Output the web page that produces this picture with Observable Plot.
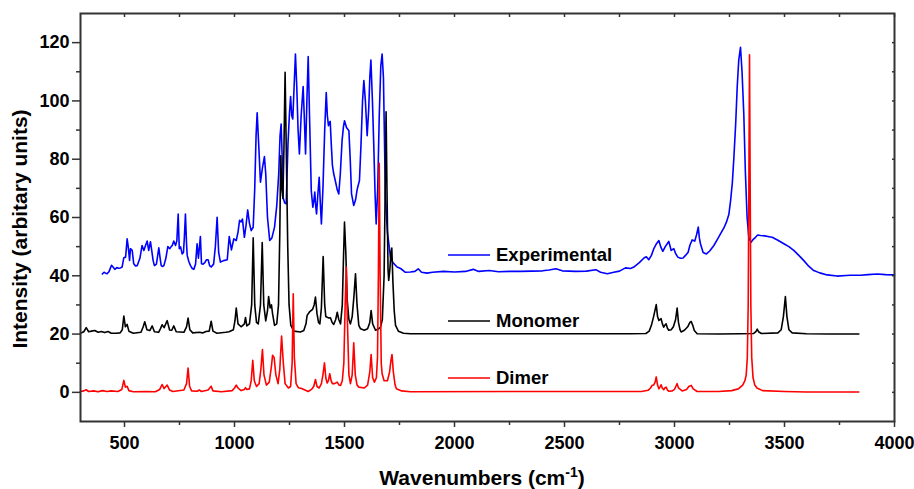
<!DOCTYPE html>
<html>
<head>
<meta charset="utf-8">
<script src="https://cdn.jsdelivr.net/npm/d3@7"></script>
<script src="https://cdn.jsdelivr.net/npm/@observablehq/plot@0.6"></script>
<style>
  html, body { margin: 0; padding: 0; background: #fff; }
  #chart svg { display: block; }
</style>
</head>
<body>
<div id="chart"></div>
<script>
// ---- Data (wavenumber cm^-1, intensity) ----
const seriesNames = ["Experimental", "Monomer", "Dimer"];
const seriesColors = ["#0000ff", "#000000", "#ff0000"];

const experimental = [[399,40.6],[407,41.2],[414,40.9],[421,40.7],[430,41.5],[441,43.6],[448,43],[456,42.2],[465,42.8],[474,42.6],[482,42.7],[489,43],[497,46.2],[505,46.4],[512,52.7],[517,49.9],[523,45.3],[527,49.3],[535,48.7],[542,44.1],[550,43.4],[558,43.5],[570,46],[580,50.4],[588,48.7],[596,50.5],[603,51.9],[610,48.7],[618,51.7],[625,48],[630,45.3],[636,43.5],[645,44],[656,49.6],[662,46],[667,43.5],[673,43.2],[679,43.5],[688,46],[697,50],[706,49.3],[712,50],[717,50.4],[724,51.9],[732,50.4],[738,52],[744,61.2],[749,49.3],[755,49.9],[762,47.5],[768,48],[772,53],[777,61.2],[782,51],[785,47],[792,45],[800,43.5],[808,42.5],[815,42.2],[823,44],[830,51],[836,46],[845,53.5],[850,44.1],[857,44],[865,44.5],[872,45.5],[880,45.5],[887,43.5],[894,43],[905,44],[913,50],[921,60.1],[928,48],[936,44.7],[950,45.2],[967,45.5],[976,53.5],[986,48.9],[997,52.7],[1008,52.1],[1016,55],[1023,59],[1030,58.5],[1036,59.5],[1045,53.2],[1052,57],[1060,62.6],[1068,58],[1076,55.5],[1085,56.7],[1092,70],[1098,88],[1103,95.9],[1110,85],[1118,72.1],[1127,77],[1136,80.9],[1142,75],[1150,60],[1160,52.1],[1170,53],[1182,56.7],[1192,64],[1201,75],[1207,88],[1212,92.1],[1217,80],[1221,66.9],[1228,65],[1235,64.7],[1243,85],[1250,96],[1255,101.5],[1260,95],[1265,93.8],[1271,105],[1277,116.1],[1283,105],[1289,90],[1295,81.8],[1303,95],[1312,104.9],[1317,95],[1323,81.8],[1329,100],[1335,115.2],[1341,95],[1349,69.2],[1356,63.5],[1361,66],[1365,68.7],[1369,64],[1373,61.2],[1379,68],[1385,73.8],[1390,65],[1395,57.8],[1402,70],[1410,90],[1417,102.9],[1422,95],[1427,91.5],[1431,92.5],[1435,93],[1440,85],[1445,78],[1451,75],[1460,72],[1467,69.5],[1474,68.1],[1481,75],[1489,86.4],[1495,91],[1500,93.2],[1509,90.9],[1520,89.8],[1526,80],[1532,68.1],[1542,64.1],[1550,66],[1558,69.8],[1568,72.7],[1575,85],[1582,100],[1588,107],[1595,100],[1603,88.1],[1610,97],[1615,108],[1620,114],[1627,100],[1633,85],[1639,68],[1644,57.8],[1651,70],[1658,95],[1665,112],[1671,116.1],[1677,108],[1686,67],[1695,55],[1709,46.4],[1720,44.5],[1739,43],[1755,42.5],[1777,41.2],[1800,41.3],[1820,41.5],[1835,42.4],[1850,41.2],[1875,40.9],[1900,41.2],[1950,41.5],[2000,41.3],[2050,41.5],[2085,42.2],[2110,41.5],[2158,41.8],[2200,41.4],[2250,41.5],[2300,41.5],[2350,41.6],[2400,41.7],[2430,42],[2461,42.4],[2490,41.7],[2550,41.5],[2600,41.6],[2642,42.1],[2664,41.2],[2695,40.7],[2724,41.2],[2750,41.6],[2777,42.7],[2800,42.5],[2815,43],[2840,44.5],[2861,46.1],[2872,46.5],[2883,45.5],[2895,47],[2906,49.3],[2918,51],[2929,52.1],[2937,50],[2947,48.4],[2958,50],[2967,51],[2974,51.8],[2985,48.7],[2997,49.3],[3006,47.5],[3015,46.4],[3027,46],[3039,46.1],[3050,47],[3062,48.1],[3070,50.5],[3080,52.3],[3092,51.9],[3100,54],[3108,56.7],[3113,53],[3118,51],[3130,48],[3145,47.5],[3160,48.5],[3179,50.4],[3195,52.5],[3209,54.4],[3225,56.5],[3236,58.4],[3247,61],[3255,65.8],[3263,72],[3270,80.7],[3278,92],[3285,104.7],[3292,114],[3300,118.4],[3307,110],[3315,95.5],[3322,76],[3330,60.1],[3338,53],[3348,51.5],[3358,52.5],[3368,53.2],[3378,54],[3391,53.8],[3410,53.7],[3430,53.4],[3444,53.2],[3470,52.2],[3497,51],[3520,50],[3542,48.7],[3565,47],[3588,45.2],[3610,43.3],[3633,41.8],[3660,41],[3694,40.3],[3739,39.9],[3780,40.1],[3800,40.2],[3845,40.2],[3880,40.4],[3921,40.6],[3960,40.4],[4000,40.3]];

const monomer = [[300,20.3],[315,20.8],[326,22.2],[337,20.8],[350,21.0],[365,21.2],[380,20.6],[395,20.9],[410,20.5],[425,20.9],[440,20.3],[460,20.3],[480,20.4],[490,21.5],[497,26.2],[504,22.5],[512,23.3],[520,21],[540,20.3],[575,20.6],[585,22.5],[592,24.2],[602,21.5],[615,21.2],[626,22.8],[636,20.8],[655,20.6],[663,21.8],[671,23.2],[680,22.2],[694,24.6],[705,21.4],[715,21.3],[724,22.8],[735,20.8],[770,20.6],[782,22.5],[789,25.5],[797,21.5],[810,20.4],[840,20.6],[855,20.4],[870,20.9],[885,21.0],[894,24.4],[902,21],[920,20.3],[960,20.6],[975,20.8],[995,21.5],[1002,24.5],[1008,28.9],[1016,23.5],[1030,22.5],[1045,23.5],[1050,25.7],[1056,22.8],[1068,23.5],[1078,30],[1085,53.0],[1092,30],[1100,24],[1108,23.5],[1118,30],[1126,51.4],[1133,30],[1142,24.5],[1150,28],[1155,32.9],[1162,29],[1168,30],[1173,27],[1182,23],[1192,23.5],[1200,30],[1206,55],[1210,81.2],[1215,70],[1220,66.5],[1225,85],[1230,109.8],[1236,80],[1242,50],[1248,30],[1256,23],[1270,21],[1300,20.7],[1315,21.2],[1325,23.5],[1330,26.4],[1340,27.5],[1349,28.1],[1355,28.5],[1362,30],[1368,32.7],[1375,27],[1382,24],[1388,23.5],[1395,29],[1403,46.6],[1410,30],[1415,26],[1421,25.8],[1428,25.5],[1436,25.6],[1444,24],[1451,23.3],[1460,25],[1467,27.5],[1474,25],[1482,23.5],[1490,30],[1495,45],[1500,58.4],[1506,48],[1512,32],[1520,25],[1527,23.5],[1535,26],[1543,33],[1550,40.7],[1557,30],[1565,23],[1573,21.8],[1590,21.3],[1605,21.8],[1615,24],[1621,28.1],[1628,23.5],[1641,21.3],[1655,21.8],[1664,22.4],[1672,25],[1680,40],[1685,70],[1689,96.3],[1693,70],[1698,42],[1701,38.4],[1706,42],[1711,48],[1715,49.5],[1720,38],[1726,28],[1732,23],[1745,21],[1768,20.3],[1800,20.1],[2000,20.1],[2400,20.1],[2800,20.1],[2870,20.2],[2885,21],[2895,23],[2905,26],[2917,30.1],[2923,26],[2929,24.7],[2935,25],[2939,25.3],[2945,23.5],[2951,22.4],[2956,23],[2962,23.5],[2968,22],[2974,21.3],[2985,21.5],[2995,22.5],[3005,25],[3012,28.9],[3018,24],[3025,21.5],[3030,20.7],[3045,21.3],[3060,22.5],[3070,24],[3076,24.3],[3083,23],[3090,21.2],[3103,20.1],[3200,20],[3300,20.1],[3360,20.2],[3370,20.8],[3376,21.7],[3382,20.8],[3395,20.2],[3470,20.4],[3485,21.5],[3495,26],[3504,32.9],[3511,26],[3520,21.5],[3535,20.4],[3600,20.1],[3700,20],[3838,20]];

const dimer = [[300,0.3],[315,0.5],[326,0.9],[337,0.3],[360,0.5],[380,0.2],[400,0.6],[420,0.3],[440,0.5],[470,0.3],[488,1],[497,4.1],[504,1.8],[512,2.1],[520,0.6],[540,0.2],[600,0.3],[640,0.2],[660,1],[671,2.7],[680,1.3],[694,2.5],[705,0.8],[720,0.3],[770,0.8],[782,3],[789,8.3],[796,2],[805,0.5],[830,0.4],[840,0.8],[850,0.3],[880,0.8],[894,2.1],[902,0.5],[940,0.2],[990,0.6],[1000,1.5],[1008,2.5],[1016,1.5],[1030,0.6],[1045,1.0],[1050,1.6],[1056,1.0],[1068,1.2],[1076,4],[1083,11],[1090,4],[1100,2],[1112,3],[1120,8],[1127,14.7],[1134,6],[1145,2.5],[1158,3.5],[1168,9],[1173,12.7],[1180,12],[1188,6],[1198,3],[1206,8],[1214,19.3],[1222,10],[1230,3],[1245,1.5],[1255,2],[1262,10],[1267,33.8],[1272,12],[1280,3],[1290,1.6],[1305,1.3],[1320,0.8],[1335,0.3],[1350,1],[1360,2],[1368,4.4],[1375,2],[1385,1.5],[1395,3],[1402,6],[1409,10.1],[1415,5],[1421,3.2],[1427,4],[1433,6.4],[1439,4],[1445,3],[1455,3],[1467,3.5],[1475,2.5],[1482,2.4],[1490,4],[1497,10],[1503,30],[1508,43],[1513,25],[1520,6],[1527,3],[1535,6],[1542,17],[1549,6],[1557,2.5],[1565,1.8],[1590,1.5],[1605,2.5],[1615,7],[1621,13],[1628,5],[1636,3.5],[1645,5],[1650,12],[1654,40],[1658,78.6],[1662,40],[1667,10],[1671,6.4],[1680,4],[1695,4],[1705,7],[1711,11],[1716,13],[1722,7],[1730,2.5],[1736,1.2],[1760,0.5],[1800,0.2],[2400,0.3],[2850,0.3],[2880,0.7],[2891,1.5],[2898,2.4],[2905,2.5],[2912,3.5],[2917,5.3],[2923,2.5],[2929,1.2],[2935,2],[2939,2.6],[2945,1.4],[2951,0.9],[2956,1.5],[2962,1.8],[2968,0.8],[2974,0.4],[2990,0.5],[3000,1],[3006,2],[3012,3],[3018,1.5],[3035,0.5],[3055,1],[3065,2],[3076,2.4],[3085,1.2],[3103,0.3],[3200,0.3],[3260,0.6],[3290,1.2],[3310,2.5],[3320,4],[3326,6],[3331,12],[3335,30],[3338,70],[3341,115.8],[3344,70],[3347,30],[3351,12],[3357,5],[3365,2.5],[3375,1.5],[3400,0.6],[3500,0.3],[3600,0.1],[3838,0.1]];

const xTicks = [500, 1000, 1500, 2000, 2500, 3000, 3500, 4000];
const xMinorTicks = [750, 1250, 1750, 2250, 2750, 3250, 3750];
const yTicks = [0, 20, 40, 60, 80, 100, 120];
const yMinorTicks = [10, 30, 50, 70, 90, 110];

const FONT = "'Liberation Sans', Arial, Helvetica, sans-serif";
const seriesData = [experimental, monomer, dimer];
const noLabel = () => "";

// Overlay: axis titles and in-plot legend
function overlay(index, scales, values, dims) {
  const {width, height, marginLeft, marginTop, marginBottom, marginRight} = dims;
  const g = d3.create("svg:g")
    .attr("font-family", FONT).attr("font-weight", "bold").attr("fill", "#000");
  const cy = (marginTop + height - marginBottom) / 2;
  g.append("text")
    .attr("transform", `translate(27,${cy + 12}) rotate(-90)`)
    .attr("text-anchor", "middle").attr("font-size", 21)
    .text("Intensity (arbitary units)");
  const cx = (marginLeft + width - marginRight) / 2;
  const t = g.append("text")
    .attr("x", cx - 5).attr("y", height - 4)
    .attr("text-anchor", "middle").attr("font-size", 21);
  t.append("tspan").text("Wavenumbers (cm");
  t.append("tspan").attr("font-size", 14).attr("dy", -8).text("-1");
  t.append("tspan").attr("dy", 8).text(")");
  // legend
  const rows = [255, 321, 378];
  seriesNames.forEach((name, i) => {
    const lg = g.append("g").attr("transform", `translate(${marginLeft + 368},${rows[i]})`);
    lg.append("line").attr("x1", 0).attr("x2", 42).attr("y1", 0).attr("y2", 0)
      .attr("stroke", seriesColors[i]).attr("stroke-width", 1.6);
    lg.append("text").attr("x", 48).attr("y", 0).attr("dy", "0.35em")
      .attr("text-anchor", "start")
      .attr("font-size", 18.5).text(name);
  });
  return g.node();
}

const chart = Plot.plot({
  width: 914,
  height: 489,
  marginLeft: 80,
  marginRight: 20,
  marginTop: 13,
  marginBottom: 68,
  style: {fontFamily: FONT, background: "#fff", color: "#000"},
  x: {domain: [300, 4000]},
  y: {domain: [-10, 130]},
  marks: [
    ...seriesData.map((d, i) => Plot.line(d, {
      x: p => p[0], y: p => p[1],
      stroke: seriesColors[i], strokeWidth: 1.6, strokeLinejoin: "round"
    })),
    Plot.axisX({ticks: xTicks, tickSize: 6, tickPadding: 9, fontSize: 18, fontWeight: "bold",
      tickFormat: d => String(d), label: null, stroke: "#333", strokeWidth: 1.5}),
    Plot.axisX({ticks: xMinorTicks, tickSize: 4, tickFormat: noLabel, label: null, stroke: "#333", strokeWidth: 1.5}),
    Plot.axisX({anchor: "top", ticks: xTicks.concat(xMinorTicks), tickSize: -3, tickFormat: noLabel, label: null, stroke: "#333", strokeWidth: 1.5}),
    Plot.axisY({ticks: yTicks, tickSize: 8, tickPadding: 3, fontSize: 18, fontWeight: "bold",
      tickFormat: d => String(d), label: null, stroke: "#333", strokeWidth: 1.5}),
    Plot.axisY({ticks: yMinorTicks, tickSize: 4, tickFormat: noLabel, label: null, stroke: "#333", strokeWidth: 1.5}),
    Plot.axisY({anchor: "right", ticks: yTicks.concat(yMinorTicks), tickSize: -3, tickFormat: noLabel, label: null, stroke: "#333", strokeWidth: 1.5}),
    Plot.frame({stroke: "#333", strokeWidth: 2}),
    overlay
  ]
});
document.getElementById("chart").appendChild(chart);
</script>
</body>
</html>
